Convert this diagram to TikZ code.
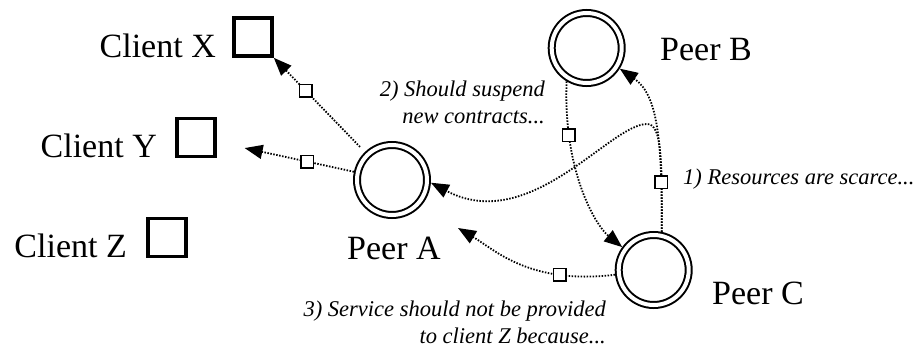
\documentclass[tikz,border=0pt]{standalone}
\usepackage{fontspec}
\setmainfont{Liberation Serif}
\usetikzlibrary{arrows.meta}

\tikzset{
  peer/.style={circle, draw, line width=2pt, double=white, double distance=4pt,
    minimum size=70pt, inner sep=0pt, outer sep=4pt},
  client/.style={rectangle, draw, line width=3.6pt, minimum size=38pt,
    inner sep=0pt, outer sep=1.8pt},
  relaybox/.style={rectangle, draw, solid, fill=white, line width=1.5pt,
    minimum size=12.5pt, inner sep=0pt},
  link/.style={line width=1.8pt, dash pattern=on 1.5pt off 1.5pt,
    -{Triangle[length=18pt,width=14pt]}},
  bigtext/.style={inner sep=0pt, font=\fontsize{34}{40}\selectfont},
  note/.style={inner sep=0pt, align=right, font=\fontsize{22.5}{27}\selectfont\itshape},
}

\begin{document}
\begin{tikzpicture}[x=1pt, y=-1pt]
  \useasboundingbox (0,0) rectangle (924,351);

  % clients
  \node[client] (X) at (253,37) {};
  \node[client] (Y) at (196,137.5) {};
  \node[client] (Z) at (167,237.5) {};
  \node[bigtext, anchor=base east] (lx) at (216,57) {Client X};
  \node[bigtext, anchor=base east] (ly) at (157,157) {Client Y};
  \node[bigtext, anchor=base east] (lz) at (127,257) {Client Z};

  % peers
  \node[peer] (A) at (392,180) {};
  \node[peer] (B) at (586.7,48) {};
  \node[peer] (C) at (653.7,270) {};
  \node[bigtext, anchor=base west] (la) at (347,259) {Peer A};
  \node[bigtext, anchor=base west] (lb) at (660,60) {Peer B};
  \node[bigtext, anchor=base west] (lc) at (712,304) {Peer C};

  % annotations (multi-line nodes sit on their last baseline)
  \node[note, anchor=base west] (n1) at (683,184) {1) Resources are scarce...};
  \node[note, anchor=base east] (n2) at (545,123) {2) Should suspend\\new contracts...};
  \node[note, anchor=base east] (n3) at (606,343) {3) Service should not be provided\\to client Z because...};

  % free end of the service message
  \coordinate (zend) at (458,228);

  % messages
  \draw[link] (C.78) .. controls (662,160) and (662,124) .. (647,124)
              .. controls (610,124) and (530,235) .. (A.-4);
  \draw[link] (C.78) .. controls (662,140) and (658,95) .. (B.-32)
              node[relaybox, pos=0.2] {};
  \draw[link] (B.-121) .. controls (563,170) and (595,225) .. (C.144)
              node[relaybox, pos=0.22] {};
  \draw[link] (C.187) .. controls (530,285) and (495,250) .. (zend)
              node[relaybox, pos=0.25] {};
  \draw[link, shorten <=7pt] (A) -- (X.south east) node[relaybox, pos=0.65] {};
  \draw[link, shorten >=28.5pt] (A) -- (Y) node[relaybox, pos=0.34] {};
\end{tikzpicture}
\end{document}
